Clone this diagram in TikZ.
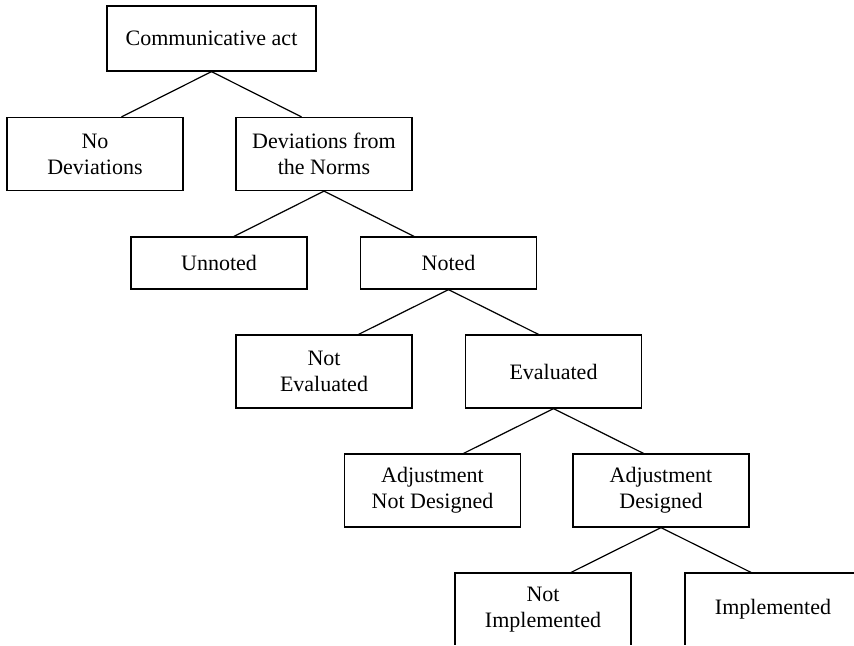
\documentclass[tikz,border=0pt]{standalone}
\usepackage{fontspec}
\setmainfont{Liberation Serif}
\tikzset{category/.style = {shape=rectangle,draw,line width=0.6pt,align=center,minimum width=88pt,minimum height=36.5pt,inner sep=0pt}}
\tikzset{branch/.style = {line width=0.6pt}}

\begin{document}
\begin{tikzpicture}[x=0.5pt,y=-0.5pt,font=\fontsize{11}{13}\selectfont]
          \useasboundingbox (0,0) rectangle (854,645);
          \clip (0,0) rectangle (854,644);
          \node[category,minimum width=104.5pt,minimum height=32.5pt] (Act) at (211.5,38.5) {Communicative act};
          \node[category] (NoDev) at (95,154) {No\\Deviations};
          \node[category] (Dev) at (324,154) {Deviations from\\the Norms};
          \node[category,minimum height=26pt] (Unnoted) at (219,263) {Unnoted};
          \node[category,minimum height=26pt] (Noted) at (448.5,263) {Noted};
          \node[category] (NotEval) at (324,371.5) {Not\\Evaluated};
          \node[category] (Eval) at (553.5,371.5) {Evaluated};
          \node[category] (AdjNot) at (432.5,490.5) {Adjustment\\Not Designed};
          \node[category] (Adj) at (661,490.5) {Adjustment\\Designed};
          \node[category] (NotImpl) at (543,609.5) {Not\\Implemented};
          \node[category] (Impl) at (773,609.5) {Implemented};

          \path[branch] (Act.south) edge ([xshift=-45pt]Act.south |- NoDev.north);
          \path[branch] (Act.south) edge ([xshift=45pt]Act.south |- Dev.north);
          \path[branch] (Dev.south) edge ([xshift=-45pt]Dev.south |- Unnoted.north);
          \path[branch] (Dev.south) edge ([xshift=45pt]Dev.south |- Noted.north);
          \path[branch] (Noted.south) edge ([xshift=-45pt]Noted.south |- NotEval.north);
          \path[branch] (Noted.south) edge ([xshift=45pt]Noted.south |- Eval.north);
          \path[branch] (Eval.south) edge ([xshift=-45pt]Eval.south |- AdjNot.north);
          \path[branch] (Eval.south) edge ([xshift=45pt]Eval.south |- Adj.north);
          \path[branch] (Adj.south) edge ([xshift=-45pt]Adj.south |- NotImpl.north);
          \path[branch] (Adj.south) edge ([xshift=45pt]Adj.south |- Impl.north);
        \end{tikzpicture}
\end{document}
